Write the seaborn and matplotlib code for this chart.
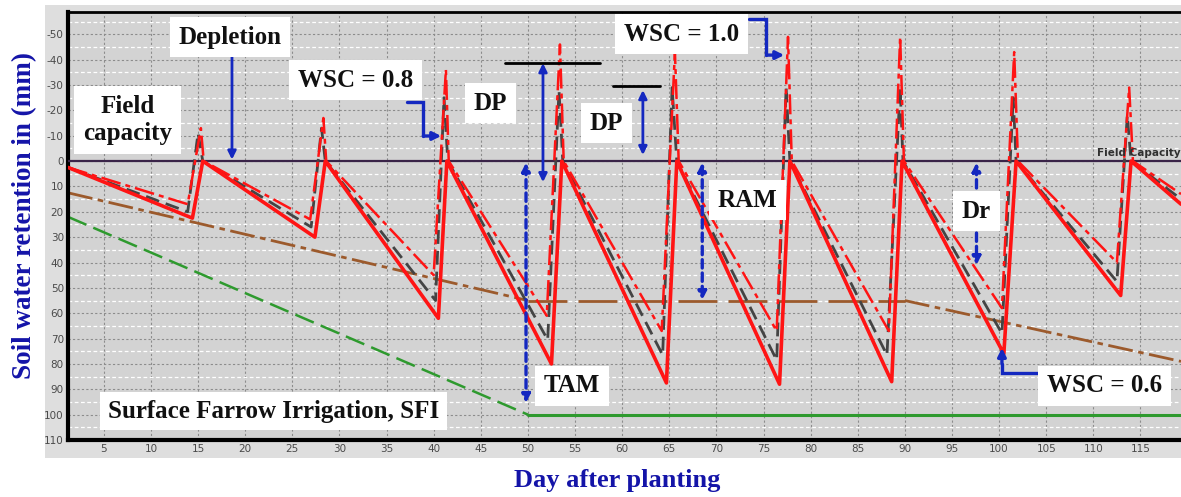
import numpy as np
import pandas as pd
import matplotlib
matplotlib.use("Agg")
import matplotlib.pyplot as plt
from matplotlib.patches import Rectangle
from matplotlib.ticker import MultipleLocator
import seaborn as sns

# ---------------- data ----------------
red_solid_day = [1.2, 14.4, 15.5, 27.4, 28.5, 40.5, 41.4, 52.5, 53.6, 64.7, 65.8,
                 76.7, 77.8, 88.6, 89.7, 100.5, 101.8, 112.9, 114.0, 119.3]
red_solid_val = [2.5, 22.5, 0, 30, 0, 62, 0, 80, 0, 87.5, 0,
                 88, 0, 87, 0, 76, 0, 53, 0, 17]

red_dash_day = [1.2, 13.9, 15.3, 15.6, 26.9, 28.3, 28.6, 40.0, 41.3, 41.6,
                52.0, 53.4, 53.8, 64.2, 65.6, 66.0, 76.4, 77.6, 78.0,
                88.3, 89.5, 89.9, 100.3, 101.6, 102.0, 112.5, 113.8, 114.2, 119.3]
red_dash_val = [2.5, 17, -13, 0, 23, -17, 0, 45, -36, 0,
                61, -46, 0, 67, -43, 0, 67, -49, 0,
                67, -49, 0, 58, -43, 0, 40, -29, 0, 13]

gray_day = [1.2, 13.9, 15.0, 15.5, 27.0, 28.1, 28.5, 40.2, 41.1, 41.5,
            52.1, 53.3, 53.7, 64.3, 65.3, 65.8, 76.4, 77.4, 77.8,
            88.1, 89.5, 89.8, 100.3, 101.5, 101.8, 112.5, 113.6, 114.0, 119.3]
gray_val = [2.5, 20, -11, 0, 26, -13, 0, 55, -25, 0,
            70.5, -28, 0, 76.5, -29, 0, 78.5, -29, 0,
            76.5, -29, 0, 68, -25, 0, 47.5, -18, 0, 15]

ram_day = [1.2, 50, 90, 119.3]
ram_val = [12.5, 55, 55, 79]

tam_day = [1.2, 50, 119.3]
tam_val = [22, 100, 100]

x_ticks = list(range(5, 120, 5))
y_ticks = list(range(-50, 111, 10))

# ---------------- style ----------------
sns.set_theme(style="white")
plt.rcParams["font.family"] = ["DejaVu Sans"]

SERIF = "Liberation Serif"
BLUE_TXT = "#1414a8"
BLUE_ARR = "#1428c0"
RED = "#ff1414"

fig = plt.figure(figsize=(11.81, 4.97), dpi=100)
fig.patch.set_facecolor("white")
bg = Rectangle((45 / 1181, 1 - 458 / 497), 1 - 45 / 1181, (458 - 5) / 497,
               transform=fig.transFigure, facecolor="#dedede",
               edgecolor="none", zorder=-10)
fig.add_artist(bg)
ax = fig.add_axes([68 / 1181, 1 - 440 / 497, (1181 - 68) / 1181, (440 - 12) / 497])
ax.set_zorder(5)
ax.set_facecolor("#d3d3d3")

# grid
ax.set_xticks(x_ticks)
ax.set_yticks(y_ticks)
ax.yaxis.set_minor_locator(MultipleLocator(5))
ax.grid(which="major", color="#8c8c8c", linestyle=(0, (2, 2)), linewidth=0.8)
ax.grid(which="minor", axis="y", color="white", linestyle=(0, (3, 2)), linewidth=0.9)
ax.set_axisbelow(True)

# lines
sns.lineplot(x=tam_day[:2], y=tam_val[:2], ax=ax, color="#2e9a2e", lw=1.8,
             linestyle=(0, (8, 3)), sort=False, estimator=None)
sns.lineplot(x=tam_day[1:], y=tam_val[1:], ax=ax, color="#2e9a2e", lw=2.2,
             sort=False, estimator=None)
sns.lineplot(x=ram_day[:2], y=ram_val[:2], ax=ax, color="#9c5a2c", lw=2.0,
             linestyle=(0, (9, 2, 2, 2)), sort=False, estimator=None)
sns.lineplot(x=ram_day[1:3], y=ram_val[1:3], ax=ax, color="#9c5a2c", lw=2.0,
             linestyle=(0, (14, 4)), sort=False, estimator=None)
sns.lineplot(x=ram_day[2:], y=ram_val[2:], ax=ax, color="#9c5a2c", lw=2.0,
             linestyle=(0, (9, 2, 2, 2)), sort=False, estimator=None)

ax.axhline(0, color="#3a2448", lw=1.6, zorder=3)

sns.lineplot(x=gray_day, y=gray_val, ax=ax, color="#444444", lw=2.0,
             linestyle=(0, (5, 2.5)), sort=False, estimator=None, zorder=4)
sns.lineplot(x=red_dash_day, y=red_dash_val, ax=ax, color=RED, lw=1.8,
             linestyle=(0, (8, 2, 2, 2)), sort=False, estimator=None, zorder=5)
sns.lineplot(x=red_solid_day, y=red_solid_val, ax=ax, color=RED, lw=2.6,
             sort=False, estimator=None, zorder=6)

ax.set_xlim(1.2, 119.3)
ax.set_ylim(110, -58.8)

# spines / ticks
for s in ["left", "bottom", "top"]:
    ax.spines[s].set_visible(True)
    ax.spines[s].set_color("black")
ax.spines["left"].set_linewidth(3)
ax.spines["bottom"].set_linewidth(3)
ax.spines["top"].set_linewidth(2)
ax.spines["right"].set_visible(False)
ax.tick_params(axis="both", which="both", length=0, labelsize=7.5,
               labelcolor="#4a4a4a", pad=3)
ax.set_xticklabels([str(t) for t in x_ticks])
ax.set_yticklabels([str(t) for t in y_ticks])
ax.set_xlabel("")
ax.set_ylabel("")

# axis titles
fig.text(617 / 1181, 1 - 481 / 497, "Day after planting", ha="center", va="center",
         family=SERIF, weight="bold", fontsize=19, color=BLUE_TXT)
fig.text(25 / 1181, 1 - 215 / 497, "Soil water retention in (mm)", ha="center",
         va="center", rotation=90, family=SERIF, weight="bold", fontsize=19.5,
         color=BLUE_TXT)

box = dict(boxstyle="square,pad=0.35", fc="white", ec="none")
tkw = dict(family=SERIF, weight="bold", fontsize=18, color="#111111",
           ha="center", va="center", bbox=box, zorder=9)

ax.text(18.4, -48.9, "Depletion", **tkw)
ax.text(7.5, -16.2, "Field\ncapacity", linespacing=1.25, **tkw)
ax.text(31.7, -31.9, "WSC = 0.8", **tkw)
ax.text(46.0, -22.9, "DP", **tkw)
ax.text(58.3, -15.0, "DP", **tkw)
ax.text(66.3, -50.1, "WSC = 1.0", **tkw)
ax.text(73.3, 15.4, "RAM", **tkw)
ax.text(54.7, 88.7, "TAM", **tkw)
ax.text(23.0, 98.6, "Surface Farrow Irrigation, SFI",
        **{**tkw, "bbox": dict(boxstyle="square,pad=0.3", fc="white", ec="none")})
ax.text(97.6, 19.7, "Dr", **tkw)
ax.text(111.2, 88.7, "WSC = 0.6", **tkw)
ax.text(114.8, -3.0, "Field Capacity", fontsize=7.5, weight="bold", color="#303030",
        ha="center", va="center", zorder=8)

# DP marker lines
ax.plot([47.6, 57.6], [-38.6, -38.6], color="black", lw=2, zorder=7)
ax.plot([59.0, 64.0], [-29.6, -29.6], color="black", lw=2, zorder=7)

def arrow(x0, y0, x1, y1, style="-|>", ls="-", lw=2):
    ax.annotate("", xy=(x1, y1), xytext=(x0, y0),
                arrowprops=dict(arrowstyle=style, color=BLUE_ARR, lw=lw, ls=ls,
                                shrinkA=0, shrinkB=0, mutation_scale=12),
                zorder=8)

# depletion arrow
arrow(18.6, -41.8, 18.6, -0.6)
# DP double arrows
arrow(51.6, -38.6, 51.6, 8.3, style="<|-|>")
arrow(62.2, -28.0, 62.2, -2.4, style="<|-|>")
# dashed double arrows
arrow(49.8, 0.6, 49.8, 95.4, style="<|-|>", ls=(0, (2.5, 1.5)), lw=2.4)
arrow(68.5, 0.6, 68.5, 54.8, style="<|-|>", ls=(0, (2.5, 1.5)), lw=2.4)
arrow(97.6, 0.6, 97.6, 41.0, style="<|-|>", ls=(0, (2.5, 1.5)), lw=2.4)

# elbow arrows
def elbow(xs, ys):
    ax.plot(xs[:-1], ys[:-1], color=BLUE_ARR, lw=2.4, zorder=8,
            solid_joinstyle="miter")
    arrow(xs[-2], ys[-2], xs[-1], ys[-1], lw=2.4)

elbow([37.2, 38.9, 38.9, 40.8], [-23.3, -23.3, -9.9, -9.9])
elbow([73.5, 75.3, 75.3, 77.2], [-56.0, -56.0, -41.8, -41.8])
elbow([104.2, 100.3, 100.3, 100.3], [83.6, 83.6, 80.0, 73.7])

fig.savefig("out.png", dpi=100, facecolor=fig.get_facecolor())
